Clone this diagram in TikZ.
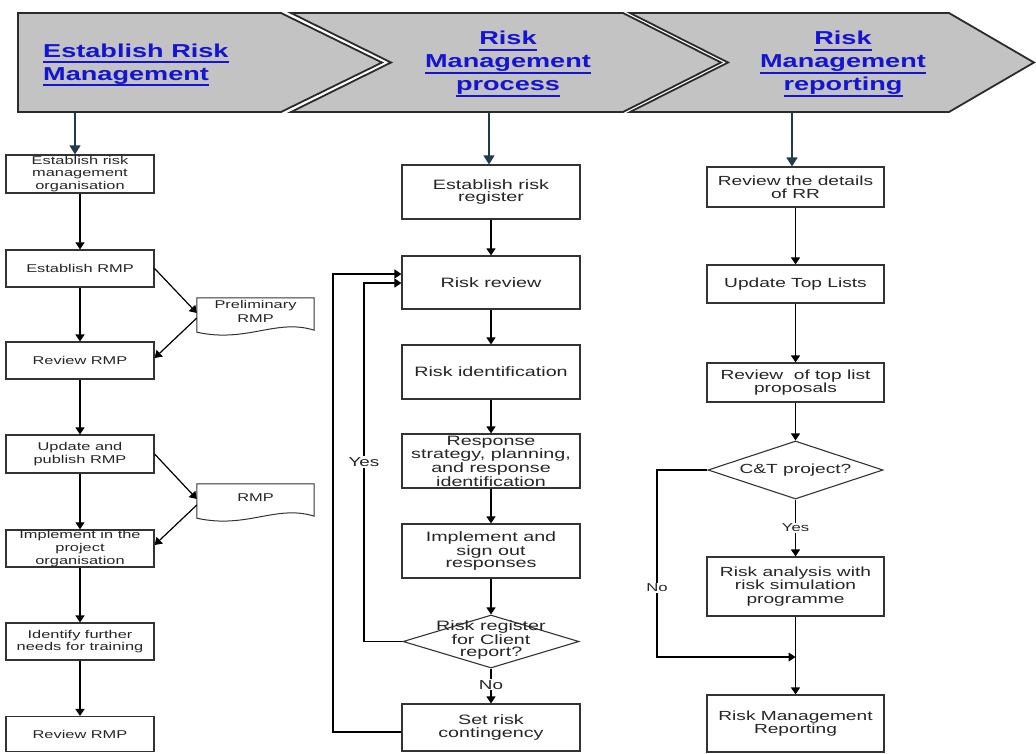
\documentclass[tikz,border=0pt]{standalone}
\usepackage{fontspec}
\setmainfont{Liberation Sans}
\newfontfamily\wideface{Liberation Sans}[FakeStretch=1.45]
\usetikzlibrary{arrows.meta,shapes.geometric}

\definecolor{bannerfill}{HTML}{C3C3C3}
\definecolor{bannerline}{HTML}{2B2B2B}
\definecolor{linkblue}{HTML}{1414D2}
\definecolor{boxline}{HTML}{333333}
\definecolor{ink}{HTML}{262626}
\definecolor{leadarrow}{HTML}{1F3B4D}

% thick underline for the link-style headings
\newcommand\headul[1]{\setbox0\hbox{#1}\rlap{\vrule height -3.8pt depth 5.6pt width \wd0}\box0}

\begin{document}
\begin{tikzpicture}[x=1pt,y=-1pt,
  banner/.style={fill=bannerfill, draw=bannerline, line width=1.8pt, line join=miter},
  headtext/.style={text=linkblue, inner sep=0pt, font=\wideface\bfseries\fontsize{18.7}{23}\selectfont},
  stepbox/.style={draw=boxline, line width=1.2pt, fill=white, align=center, text=ink, inner sep=0.5pt},
  leftbox/.style={stepbox, minimum width=148pt, font=\wideface\fontsize{11.3}{12.8}\selectfont},
  midbox/.style={stepbox, minimum width=178pt, font=\wideface\fontsize{13.6}{12.4}\selectfont},
  rightbox/.style={stepbox, minimum width=177pt, font=\wideface\fontsize{13.2}{13.3}\selectfont},
  decision/.style={diamond, draw=boxline, line width=1.1pt, fill=white, inner sep=0pt},
  doctext/.style={align=center, text=ink, font=\wideface\fontsize{11.3}{14}\selectfont},
  docnode/.style={rectangle, inner sep=0pt, minimum width=117pt, minimum height=34pt},
  docline/.style={draw=boxline, line width=1pt, fill=white},
  arr/.style={draw=black, line width=1.2pt, -{Triangle[length=7pt,width=9pt]}},
  leadarr/.style={draw=leadarrow, line width=1.4pt, -{Triangle[length=9pt,width=11pt]}},
  tag/.style={fill=white, inner sep=1pt, text=ink},
]
\useasboundingbox (0,0) rectangle (1036,753);

% ---------- phase banner ----------
\draw[banner] (18,13) -- (281,13) -- (382,62.5) -- (281,112) -- (18,112) -- cycle;
\draw[banner] (291,13) -- (623,13) -- (721,62.5) -- (623,112) -- (291,112) -- (391,62.5) -- cycle;
\draw[banner] (630,13) -- (949,13) -- (1034,62.5) -- (949,112) -- (630,112) -- (728,62.5) -- cycle;

\node[headtext, anchor=west, align=left] (h1) at (43,64.8) {\headul{Establish Risk}\\\headul{Management}};
\node[headtext, align=center] (h2) at (508,64) {\headul{Risk}\\\headul{Management}\\\headul{process}};
\node[headtext, align=center] (h3) at (843,64) {\headul{Risk}\\\headul{Management}\\\headul{reporting}};

\coordinate (s1) at (75,113);
\coordinate (s2) at (489,113);
\coordinate (s3) at (792,113);

% ---------- establish risk management ----------
\node[leftbox, minimum height=38pt] (b1) at (80,174) {Establish risk\\management\\organisation};
\node[leftbox, minimum height=37pt] (b2) at (80,268.5) {Establish RMP};
\node[leftbox, minimum height=37pt] (b3) at (80,360.5) {Review RMP};
\node[leftbox, minimum height=38pt] (b4) at (80,454) {Update and\\publish RMP};
\node[leftbox, minimum height=37pt] (b5) at (80,548.5) {Implement in the\\project\\organisation};
\node[leftbox, minimum height=37pt] (b6) at (80,641.5) {Identify further\\needs for training};
\node[leftbox, minimum height=35pt] (b7) at (80,734) {Review RMP};

\node[docnode] (d1) at (255.5,315) {};
\draw[docline] (d1.south west) -- (d1.north west) -- (d1.north east) -- ([yshift=2pt]d1.south east)
  .. controls +(-38,-12) and +(50,11) .. (d1.south west) -- cycle;
\node[doctext] (d1t) at (255.5,311) {Preliminary\\RMP};

\node[docnode] (d2) at (255.5,501) {};
\draw[docline] (d2.south west) -- (d2.north west) -- (d2.north east) -- ([yshift=2pt]d2.south east)
  .. controls +(-38,-12) and +(50,11) .. (d2.south west) -- cycle;
\node[doctext] (d2t) at (255.5,498) {RMP};

\draw[leadarr] (s1) -- (s1 |- b1.north);
\draw[arr] (b1) -- (b2);
\draw[arr] (b2) -- (b3);
\draw[arr] (b3) -- (b4);
\draw[arr] (b4) -- (b5);
\draw[arr] (b5) -- (b6);
\draw[arr] (b6) -- (b7);
\draw[arr] (b2.east) -- ([yshift=2pt]d1.west);
\draw[arr] ([yshift=-3pt]d1.west) -- ([yshift=2.5pt]b3.east);
\draw[arr] (b4.east) -- ([yshift=2pt]d2.west);
\draw[arr] ([yshift=-4pt]d2.west) -- ([yshift=3.5pt]b5.east);

% ---------- risk management process ----------
\node[midbox, minimum height=54pt] (m1) at (491,192) {Establish risk\\register};
\node[midbox, minimum height=53pt] (m2) at (491,282.5) {Risk review};
\node[midbox, minimum height=54pt] (m3) at (491,372) {Risk identification};
\node[midbox, minimum height=54pt] (m4) at (491,461) {Response\\strategy, planning,\\and response\\identification};
\node[midbox, minimum height=54pt] (m5) at (491,551) {Implement and\\sign out\\responses};
\node[decision, minimum width=176pt, minimum height=53pt,
  label={[align=center, text=ink, font=\wideface\fontsize{13.6}{12.2}\selectfont, yshift=1.5pt]center:Risk register\\for Client\\report?}] (q1) at (491,641.5) {};
\node[midbox, minimum height=47pt] (m6) at (491,727.5) {Set risk\\contingency};

\coordinate (outerx) at (333,500);
\coordinate (innerx) at (364,500);

\draw[leadarr] (s2) -- (s2 |- m1.north);
\draw[arr] (m1) -- (m2);
\draw[arr] (m2) -- (m3);
\draw[arr] (m3) -- (m4);
\draw[arr] (m4) -- (m5);
\draw[arr] (m5) -- (q1);
\draw[arr] (q1) -- node[tag, pos=0.47, font=\wideface\fontsize{13}{13}\selectfont] (noA) {No} (m6);
\draw[arr] ([yshift=-4.5pt]m6.west) -| (outerx) |- ([yshift=8.5pt]m2.west);
\draw[arr] (q1.west) -| (innerx) |- ([yshift=-0.5pt]m2.west);
\node[tag, font=\wideface\fontsize{13}{13}\selectfont] (yesA) at (364,462) {Yes};

% ---------- risk management reporting ----------
\node[rightbox, minimum height=40pt] (r1) at (795.5,187) {Review the details\\of RR};
\node[rightbox, minimum height=38pt] (r2) at (795.5,284) {Update Top Lists};
\node[rightbox, minimum height=39pt] (r3) at (795.5,382.5) {Review~ of top list\\proposals};
\node[decision, minimum width=175pt, minimum height=58pt,
  label={[text=ink, font=\wideface\fontsize{13.2}{13.3}\selectfont]center:C\&T project?}] (q2) at (795.5,470) {};
\node[rightbox, minimum height=59pt] (r4) at (795.5,586.5) {Risk analysis with\\risk simulation\\programme};
\node[rightbox, minimum height=57pt] (r5) at (795.5,723.5) {Risk Management\\Reporting};

\coordinate (noturn) at (657,560);
\coordinate (join) at (795.5,657);

\draw[leadarr] (s3) -- (s3 |- r1.north);
\draw[arr] (r1) -- (r2);
\draw[arr] (r2) -- (r3);
\draw[arr] (r3) -- (q2);
\draw[arr] (q2) -- node[tag, pos=0.5, font=\wideface\fontsize{11.5}{11.5}\selectfont] (yesB) {Yes} (r4);
\draw[arr] (r4) -- (r5);
\draw[arr] (q2.west) -| (noturn) |- (join);
\node[tag, font=\wideface\fontsize{11.5}{11.5}\selectfont] (noB) at (657,588) {No};
\end{tikzpicture}
\end{document}
